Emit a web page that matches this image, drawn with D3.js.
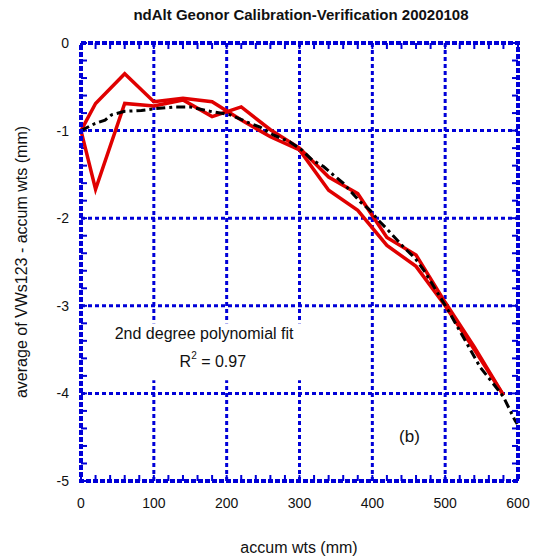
<!DOCTYPE html>
<html>
<head>
<meta charset="utf-8">
<script src="https://cdn.jsdelivr.net/npm/d3@7"></script>
<style>
  body { margin: 0; background: #fff; }
  text { font-family: "Liberation Sans", Arial, sans-serif; fill: #111; }
</style>
</head>
<body>
<div id="chart"></div>
<script>
// --- data ---
const weights = [0, 20, 60, 100, 140, 180, 220, 260, 300, 340, 380, 420, 460, 500, 540, 580];
const runA = [-1, -0.69, -0.35, -0.67, -0.63, -0.67, -0.88, -1.07, -1.22, -1.68, -1.91, -2.31, -2.55, -3.0, -3.5, -4.02];
const runB = [-1, -1.67, -0.69, -0.72, -0.65, -0.84, -0.73, -0.99, -1.2, -1.53, -1.72, -2.22, -2.42, -2.96, -3.47, -4.02];

const fitX = [0, 19, 33, 42, 60, 83, 102, 129, 150, 177, 191, 205, 230, 246, 264, 287, 303, 318, 333, 347, 360, 383, 397, 408, 422, 443, 459, 472, 504, 525, 548, 568, 580, 596, 599];
const fitY = [-1, -0.92, -0.88, -0.82, -0.78, -0.77, -0.75, -0.73, -0.73, -0.78, -0.8, -0.82, -0.91, -0.96, -1.05, -1.13, -1.22, -1.34, -1.41, -1.51, -1.6, -1.81, -1.91, -2.02, -2.14, -2.33, -2.46, -2.61, -3.05, -3.36, -3.7, -3.91, -4.04, -4.31, -4.35];

const xTicks = [0, 100, 200, 300, 400, 500, 600];
const yTicks = [0, -1, -2, -3, -4, -5];

const titleText = "ndAlt Geonor Calibration-Verification 20020108";
const xLabel = "accum wts (mm)";
const yLabel = "average of VWs123 - accum wts (mm)";

// --- layout ---
const width = 541, height = 560;
const margin = { top: 43, right: 23, bottom: 79, left: 81 };
const innerW = width - margin.left - margin.right;
const innerH = height - margin.top - margin.bottom;
const blue = "#0000d8";
const red = "#e00000";

const svg = d3.select("#chart").append("svg")
    .attr("width", width)
    .attr("height", height);

const x = d3.scaleLinear().domain([0, 600]).range([0, innerW]);
const y = d3.scaleLinear().domain([0, -5]).range([0, innerH]);

const g = svg.append("g").attr("transform", `translate(${margin.left},${margin.top})`);

// grid
g.append("g").selectAll("line").data(xTicks.slice(1, -1)).enter().append("line")
    .attr("x1", d => x(d)).attr("x2", d => x(d))
    .attr("y1", 0).attr("y2", innerH)
    .attr("stroke", blue).attr("stroke-width", 3).attr("stroke-dasharray", "4,3");
g.append("g").selectAll("line").data(yTicks.slice(1, -1)).enter().append("line")
    .attr("x1", 0).attr("x2", innerW)
    .attr("y1", d => y(d)).attr("y2", d => y(d))
    .attr("stroke", blue).attr("stroke-width", 3).attr("stroke-dasharray", "4,3");

// minor ticks, inward on all sides
const xMinor = d3.range(0, 601, 20);
const yMinor = d3.range(0, 26).map(i => -i * 0.2);
const ticks = g.append("g").attr("stroke", blue).attr("stroke-width", 2);
xMinor.forEach(v => {
    ticks.append("line").attr("x1", x(v)).attr("x2", x(v)).attr("y1", 0).attr("y2", 6);
    ticks.append("line").attr("x1", x(v)).attr("x2", x(v)).attr("y1", innerH).attr("y2", innerH - 6);
});
yMinor.forEach(v => {
    ticks.append("line").attr("y1", y(v)).attr("y2", y(v)).attr("x1", 0).attr("x2", 6);
    ticks.append("line").attr("y1", y(v)).attr("y2", y(v)).attr("x1", innerW).attr("x2", innerW - 6);
});

// text boxes inside the plot (white background covers the grid)
const note = g.append("g");
note.append("rect")
    .attr("x", x(20)).attr("y", y(-3.2))
    .attr("width", x(330) - x(20)).attr("height", y(-3.85) - y(-3.2))
    .attr("fill", "#fff");
note.append("text")
    .attr("x", x(169)).attr("y", y(-3.38))
    .attr("text-anchor", "middle").attr("font-size", 16)
    .text("2nd degree polynomial fit");
const r2 = note.append("text")
    .attr("x", x(181)).attr("y", y(-3.7))
    .attr("text-anchor", "middle").attr("font-size", 16);
r2.append("tspan").text("R");
r2.append("tspan").attr("font-size", 10).attr("dy", -8).text("2");
r2.append("tspan").attr("dy", 8).text(" = 0.97");

g.append("text")
    .attr("x", x(451)).attr("y", y(-4.56))
    .attr("text-anchor", "middle").attr("font-size", 17)
    .text("(b)");

// series
const lineA = d3.line().x((d, i) => x(weights[i])).y(d => y(d));
[runA, runB].forEach(s => {
    g.append("path")
        .datum(s)
        .attr("d", lineA)
        .attr("fill", "none")
        .attr("stroke", red)
        .attr("stroke-width", 3.5)
        .attr("stroke-linejoin", "miter");
});

const fitLine = d3.line().x((d, i) => x(fitX[i])).y(d => y(d));
g.append("path")
    .datum(fitY)
    .attr("d", fitLine)
    .attr("fill", "none")
    .attr("stroke", "#000")
    .attr("stroke-width", 3)
    .attr("stroke-dasharray", "9,4,3,4");

// frame
g.append("rect")
    .attr("x", 0).attr("y", 0).attr("width", innerW).attr("height", innerH)
    .attr("fill", "none").attr("stroke", blue).attr("stroke-width", 4)
    .attr("stroke-dasharray", "5,2");

// tick labels
g.append("g").selectAll("text").data(xTicks).enter().append("text")
    .attr("x", d => x(d)).attr("y", innerH + 27)
    .attr("text-anchor", "middle").attr("font-size", 14)
    .text(d => d);
g.append("g").selectAll("text").data(yTicks).enter().append("text")
    .attr("x", -12).attr("y", d => y(d) + 5)
    .attr("text-anchor", "end").attr("font-size", 14)
    .text(d => d);

// titles
svg.append("text")
    .attr("x", 301).attr("y", 20)
    .attr("text-anchor", "middle").attr("font-size", 15).attr("font-weight", "bold")
    .text(titleText);
svg.append("text")
    .attr("x", 299).attr("y", 553)
    .attr("text-anchor", "middle").attr("font-size", 16)
    .text(xLabel);
svg.append("text")
    .attr("transform", "translate(27,262) rotate(-90)")
    .attr("text-anchor", "middle").attr("font-size", 16)
    .text(yLabel);
</script>
</body>
</html>
